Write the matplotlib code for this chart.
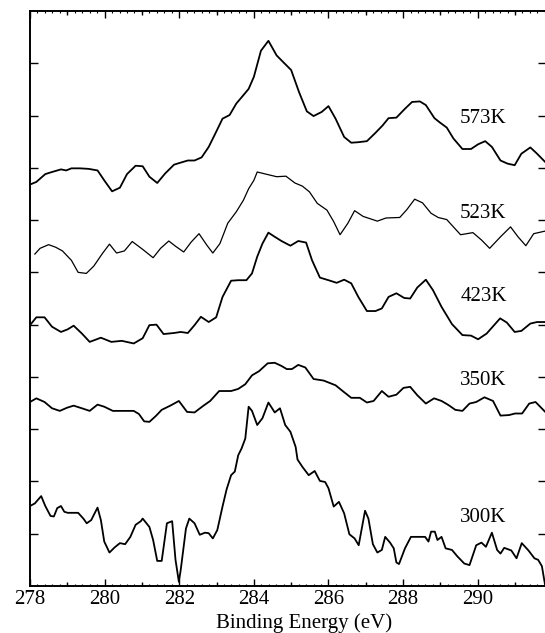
import matplotlib
matplotlib.use('Agg')
import matplotlib.pyplot as plt
from matplotlib.ticker import MultipleLocator, FixedLocator, NullFormatter

plt.rcParams['font.family'] = ['Liberation Serif', 'DejaVu Serif']

# C 1s spectra after annealing, stacked (arbitrary intensity units)
be_573 = [278.00, 278.17, 278.41, 278.59, 278.83, 278.97, 279.11, 279.34, 279.57, 279.81,
          279.99, 280.20, 280.41, 280.60, 280.83, 281.02, 281.20, 281.41, 281.62, 281.86,
          282.04, 282.23, 282.41, 282.60, 282.79, 282.97, 283.16, 283.35, 283.53, 283.72,
          283.86, 284.00, 284.19, 284.39, 284.61, 284.79, 285.00, 285.21, 285.42, 285.60,
          285.82, 286.00, 286.19, 286.42, 286.61, 286.80, 287.03, 287.26, 287.45, 287.61,
          287.82, 288.05, 288.24, 288.45, 288.61, 288.84, 288.98, 289.17, 289.35, 289.59,
          289.82, 290.01, 290.20, 290.38, 290.61, 290.80, 290.99, 291.17, 291.41, 291.59,
          291.81]
int_573 = [7.68, 7.73, 7.88, 7.92, 7.97, 7.95, 7.99, 7.99, 7.98, 7.95,
           7.76, 7.55, 7.62, 7.88, 8.04, 8.03, 7.83, 7.71, 7.89, 8.06,
           8.10, 8.14, 8.14, 8.20, 8.40, 8.66, 8.94, 9.01, 9.23, 9.39,
           9.51, 9.74, 10.24, 10.43, 10.15, 10.02, 9.87, 9.45, 9.08, 8.99,
           9.07, 9.18, 8.94, 8.59, 8.48, 8.49, 8.51, 8.67, 8.81, 8.95,
           8.96, 9.13, 9.26, 9.27, 9.20, 8.95, 8.87, 8.77, 8.56, 8.36,
           8.36, 8.45, 8.51, 8.40, 8.14, 8.08, 8.05, 8.27, 8.39, 8.27,
           8.11]

be_523 = [278.13, 278.27, 278.50, 278.69, 278.87, 279.11, 279.29, 279.51, 279.71, 279.94,
          280.13, 280.32, 280.53, 280.74, 281.02, 281.30, 281.50, 281.72, 281.90, 282.12,
          282.32, 282.53, 282.74, 282.90, 283.09, 283.30, 283.53, 283.72, 283.86, 284.00,
          284.09, 284.32, 284.61, 284.86, 285.10, 285.30, 285.49, 285.70, 285.96, 286.14,
          286.31, 286.52, 286.70, 286.93, 287.31, 287.54, 287.91, 288.10, 288.31, 288.52,
          288.75, 288.94, 289.17, 289.31, 289.54, 289.87, 290.10, 290.32, 290.61, 290.88,
          291.08, 291.29, 291.50, 291.81]
int_523 = [6.35, 6.46, 6.53, 6.48, 6.41, 6.23, 6.00, 5.98, 6.12, 6.36,
           6.54, 6.37, 6.41, 6.59, 6.44, 6.28, 6.46, 6.60, 6.50, 6.39,
           6.58, 6.74, 6.52, 6.37, 6.55, 6.94, 7.16, 7.38, 7.60, 7.76,
           7.92, 7.88, 7.83, 7.84, 7.71, 7.65, 7.54, 7.32, 7.19, 6.97,
           6.72, 6.94, 7.18, 7.07, 6.98, 7.04, 7.05, 7.20, 7.40, 7.33,
           7.13, 7.05, 7.01, 6.90, 6.72, 6.76, 6.62, 6.46, 6.68, 6.87,
           6.68, 6.51, 6.74, 6.79]

be_423 = [278.00, 278.17, 278.39, 278.59, 278.83, 279.01, 279.17, 279.39, 279.60, 279.90,
          280.18, 280.46, 280.78, 281.02, 281.20, 281.39, 281.58, 281.86, 282.04, 282.23,
          282.41, 282.58, 282.79, 282.99, 283.16, 283.39, 283.58, 283.80, 283.95, 284.09,
          284.23, 284.39, 284.56, 284.74, 284.98, 285.19, 285.40, 285.56, 285.77, 286.00,
          286.22, 286.42, 286.61, 286.80, 287.03, 287.26, 287.43, 287.61, 287.82, 288.03,
          288.19, 288.38, 288.61, 288.80, 289.03, 289.31, 289.59, 289.82, 290.01, 290.24,
          290.60, 290.78, 290.99, 291.17, 291.41, 291.59, 291.81]
int_423 = [4.99, 5.14, 5.14, 4.96, 4.86, 4.91, 4.98, 4.83, 4.67, 4.75,
           4.67, 4.69, 4.64, 4.74, 4.99, 5.00, 4.82, 4.84, 4.86, 4.84,
           4.99, 5.15, 5.05, 5.14, 5.53, 5.84, 5.85, 5.85, 5.98, 6.30,
           6.55, 6.76, 6.68, 6.60, 6.51, 6.60, 6.57, 6.23, 5.90, 5.85,
           5.80, 5.86, 5.79, 5.53, 5.26, 5.26, 5.31, 5.53, 5.60, 5.51,
           5.50, 5.71, 5.86, 5.66, 5.34, 5.01, 4.80, 4.79, 4.72, 4.83,
           5.12, 5.04, 4.86, 4.88, 5.02, 5.05, 5.05]

be_350 = [278.00, 278.17, 278.39, 278.59, 278.80, 278.99, 279.17, 279.39, 279.60, 279.81,
          279.99, 280.22, 280.50, 280.78, 280.92, 281.06, 281.20, 281.37, 281.53, 281.76,
          281.99, 282.21, 282.41, 282.65, 282.83, 283.07, 283.39, 283.58, 283.77, 283.95,
          284.14, 284.37, 284.56, 284.74, 284.88, 285.02, 285.19, 285.38, 285.60, 285.87,
          286.19, 286.38, 286.61, 286.84, 287.03, 287.21, 287.43, 287.61, 287.82, 288.01,
          288.19, 288.38, 288.61, 288.83, 289.03, 289.22, 289.40, 289.59, 289.78, 289.96,
          290.18, 290.41, 290.61, 290.84, 291.00, 291.19, 291.38, 291.55, 291.81]
int_350 = [3.52, 3.59, 3.52, 3.40, 3.35, 3.41, 3.45, 3.40, 3.35, 3.47,
           3.43, 3.35, 3.35, 3.35, 3.29, 3.15, 3.14, 3.25, 3.37, 3.45,
           3.54, 3.33, 3.32, 3.45, 3.54, 3.73, 3.73, 3.77, 3.86, 4.03,
           4.11, 4.26, 4.27, 4.21, 4.15, 4.15, 4.23, 4.18, 3.96, 3.93,
           3.84, 3.73, 3.60, 3.60, 3.51, 3.54, 3.73, 3.62, 3.66, 3.79,
           3.81, 3.65, 3.49, 3.59, 3.54, 3.46, 3.37, 3.35, 3.49, 3.52,
           3.61, 3.54, 3.26, 3.27, 3.30, 3.30, 3.49, 3.52, 3.33]

be_300 = [278.00, 278.13, 278.30, 278.41, 278.55, 278.64, 278.73, 278.83, 278.92, 279.01,
          279.29, 279.43, 279.52, 279.64, 279.81, 279.90, 279.99, 280.13, 280.27, 280.41,
          280.55, 280.69, 280.83, 280.97, 281.02, 281.11, 281.20, 281.30, 281.41, 281.53,
          281.67, 281.81, 281.90, 281.99, 282.04, 282.18, 282.27, 282.41, 282.55, 282.69,
          282.79, 282.90, 283.02, 283.16, 283.27, 283.39, 283.49, 283.58, 283.67, 283.77,
          283.86, 283.95, 284.09, 284.23, 284.39, 284.56, 284.70, 284.84, 284.98, 285.12,
          285.17, 285.30, 285.47, 285.63, 285.77, 285.91, 286.00, 286.14, 286.28, 286.42,
          286.56, 286.70, 286.81, 286.98, 287.07, 287.19, 287.31, 287.43, 287.52, 287.65,
          287.75, 287.82, 287.89, 288.05, 288.21, 288.43, 288.59, 288.68, 288.75, 288.85,
          288.92, 289.03, 289.14, 289.31, 289.45, 289.64, 289.78, 289.96, 290.10, 290.22,
          290.38, 290.52, 290.61, 290.71, 290.90, 291.04, 291.18, 291.36, 291.52, 291.62,
          291.72, 291.81]
int_300 = [1.53, 1.58, 1.72, 1.53, 1.34, 1.33, 1.49, 1.53, 1.42, 1.40,
           1.40, 1.29, 1.20, 1.26, 1.50, 1.26, 0.85, 0.64, 0.74, 0.82,
           0.80, 0.94, 1.17, 1.24, 1.29, 1.21, 1.13, 0.88, 0.48, 0.48,
           1.20, 1.24, 0.50, 0.08, 0.31, 1.10, 1.29, 1.20, 0.98, 1.02,
           1.01, 0.91, 1.07, 1.52, 1.85, 2.12, 2.19, 2.50, 2.63, 2.82,
           3.43, 3.35, 3.08, 3.21, 3.51, 3.32, 3.40, 3.08, 2.95, 2.66,
           2.42, 2.28, 2.12, 2.20, 2.01, 1.99, 1.87, 1.52, 1.61, 1.39,
           0.99, 0.91, 0.78, 1.44, 1.29, 0.80, 0.64, 0.69, 0.94, 0.83,
           0.72, 0.45, 0.42, 0.72, 0.94, 0.94, 0.94, 0.85, 1.04, 1.04,
           0.88, 0.94, 0.72, 0.69, 0.57, 0.43, 0.40, 0.78, 0.83, 0.75,
           1.02, 0.69, 0.62, 0.73, 0.68, 0.53, 0.82, 0.68, 0.53, 0.50,
           0.38, 0.0]

labels = ['573K', '523K', '423K', '350K', '300K']
label_y = [8.95, 7.13, 5.53, 3.93, 1.31]

spectra = [(be_573, int_573, 1.3), (be_523, int_523, 0.9), (be_423, int_423, 1.3),
           (be_350, int_350, 1.3), (be_300, int_300, 1.3)]

fig = plt.figure(figsize=(5.45, 6.33), dpi=100)
ax = fig.add_axes([30 / 545, 47 / 633, 516 / 545, 575 / 633])

for be, y, lw in spectra:
    ax.plot(be, y, color='black', lw=lw)

for lab, ly in zip(labels, label_y):
    ax.text(289.53, ly, lab, fontsize=15, va='center', ha='left')

ax.set_xlim(278, 291.83)
ax.set_ylim(0, 11)

ax.xaxis.set_major_locator(MultipleLocator(2))
ax.xaxis.set_minor_locator(MultipleLocator(0.2))
ax.yaxis.set_major_locator(FixedLocator(range(1, 11)))
ax.yaxis.set_major_formatter(NullFormatter())
ax.tick_params(axis='x', which='major', direction='in', length=5, width=1,
               top=True, labelsize=15, pad=3)
ax.tick_params(axis='x', which='minor', direction='in', length=1.5, width=0.8, top=True)
ax.tick_params(axis='y', which='major', direction='in', length=6, width=1, right=True)

# odd integers get a medium-length tick
for side in ('bottom', 'top'):
    sec = ax.secondary_xaxis(side)
    sec.set_xticks(range(279, 292, 2))
    sec.tick_params(direction='in', length=3, width=1, labelbottom=False, labeltop=False)
    sec.spines[side].set_visible(False)

for s in ax.spines.values():
    s.set_linewidth(1.4)

ax.set_xlabel('Binding Energy (eV)', fontsize=15)
ax.xaxis.set_label_coords(0.532, -0.047)

fig.savefig('out.png', dpi=100)
